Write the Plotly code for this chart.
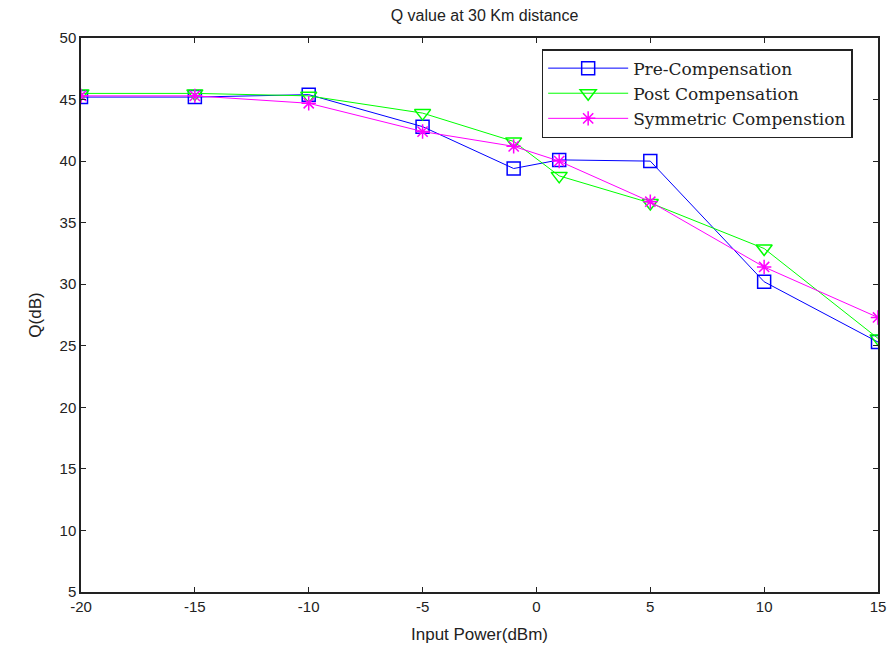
import plotly.graph_objects as go

x_vals = [-20, -15, -10, -5, -1, 1, 5, 10, 15]
pre_comp = [45.2, 45.2, 45.4, 42.8, 39.4, 40.1, 40.0, 30.2, 25.3]
post_comp = [45.5, 45.5, 45.3, 43.9, 41.6, 38.8, 36.6, 32.9, 25.6]
sym_comp = [45.3, 45.3, 44.7, 42.4, 41.2, 40.0, 36.7, 31.4, 27.3]

x_ticks = [-20, -15, -10, -5, 0, 5, 10, 15]
y_ticks = [5, 10, 15, 20, 25, 30, 35, 40, 45, 50]

fig = go.Figure()
fig.add_trace(go.Scatter(x=x_vals, y=pre_comp, mode="lines+markers", name="Pre-Compensation",
                         line=dict(color="#0000ff", width=1),
                         marker=dict(symbol="square-open", size=13, color="#0000ff", line=dict(width=1.5))))
fig.add_trace(go.Scatter(x=x_vals, y=post_comp, mode="lines+markers", name="Post Compensation",
                         line=dict(color="#00ff00", width=1),
                         marker=dict(symbol="triangle-down-open", size=14, color="#00ff00", line=dict(width=1.5))))
fig.add_trace(go.Scatter(x=x_vals, y=sym_comp, mode="lines+markers", name="Symmetric Compenstion",
                         line=dict(color="#ff00ff", width=1),
                         marker=dict(symbol="asterisk-open", size=12, color="#ff00ff", line=dict(width=1.5, color="#ff00ff"))))

axis_common = dict(showgrid=False, zeroline=False, ticks="inside", ticklen=5, tickcolor="#222",
                   showline=True, linecolor="#222", linewidth=1.5, mirror="ticks", automargin=False,
                   tickfont=dict(family="Liberation Sans, Arial", size=15, color="#222"))

fig.update_layout(
    width=889, height=649,
    margin=dict(l=81, r=11, t=38, b=57),
    paper_bgcolor="white", plot_bgcolor="white",
    title=dict(text="Q value at 30 Km distance", x=0.545, xanchor="center", y=0.977, yanchor="middle",
               font=dict(family="Liberation Sans, Arial", size=16, color="#222")),
    xaxis=dict(range=[-20, 15], tickvals=x_ticks, ticktext=[str(t) for t in x_ticks],
               title=dict(text="Input Power(dBm)", standoff=14, font=dict(family="Liberation Sans, Arial", size=17, color="#222")),
               **axis_common),
    yaxis=dict(range=[5, 50], tickvals=y_ticks, ticktext=[str(t) for t in y_ticks],
               title=dict(text="Q(dB)", standoff=14, font=dict(family="Liberation Sans, Arial", size=17, color="#222")),
               **axis_common),
    legend=dict(x=0.578, y=0.98, xanchor="left", yanchor="top",
                bgcolor="white", bordercolor="#222", borderwidth=1.5,
                font=dict(family="DejaVu Serif, Liberation Serif, serif", size=17, color="#222"),
                itemwidth=80, tracegroupgap=0),
    showlegend=True,
)

fig.write_html("out.html")
